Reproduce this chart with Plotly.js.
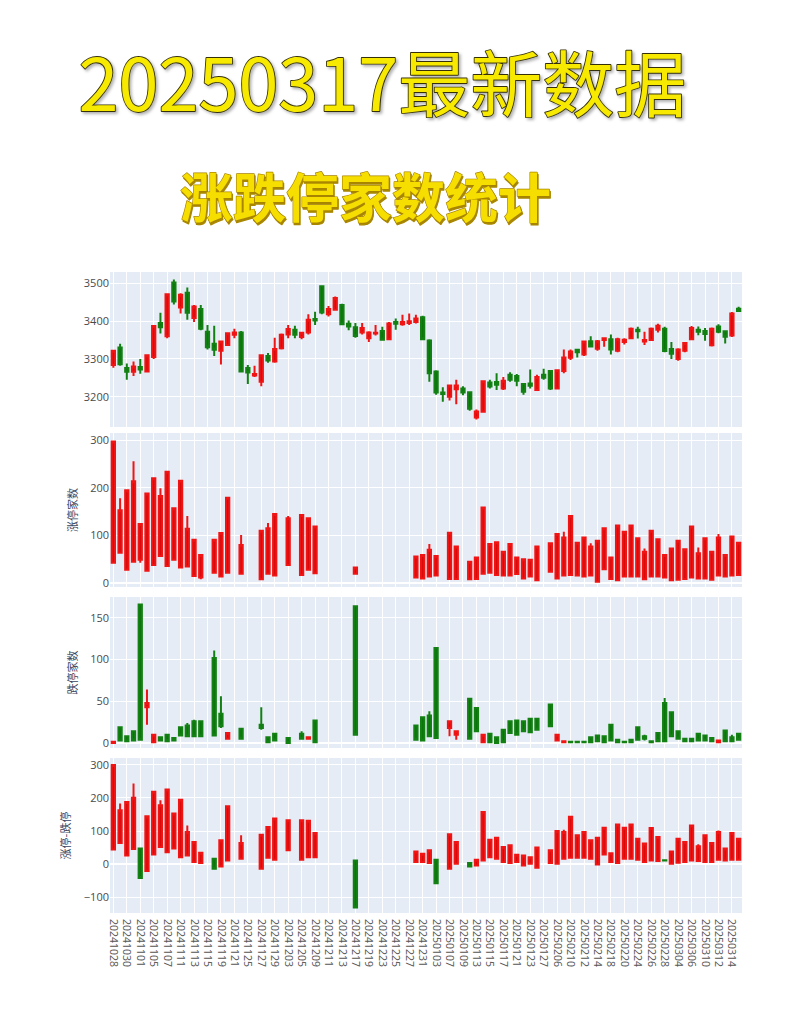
<!DOCTYPE html>
<html>
<head>
<meta charset="utf-8">
<script src="https://cdn.plot.ly/plotly-3.0.1.min.js"></script>
<style>
  html, body { margin: 0; padding: 0; background: #ffffff; }
  #chart { width: 800px; height: 1029px; }
  .gtitle {
    paint-order: stroke fill;
    stroke: #35300a;
    stroke-width: 1.8px;
    stroke-linejoin: round;
    filter: drop-shadow(2px 2px 1.5px rgba(0,0,0,0.3));
  }
  .annotation-text {
    paint-order: stroke fill;
    stroke: #a88400;
    stroke-width: 1.3px;
    stroke-linejoin: round;
    filter: drop-shadow(1.5px 2px 0px #a88600);
  }
</style>
</head>
<body>
<div id="chart"></div>
<script>
const n = null;

const dates = ['20241028','20241029','20241030','20241031','20241101','20241104','20241105','20241106','20241107','20241108',
'20241111','20241112','20241113','20241114','20241115','20241118','20241119','20241120','20241121','20241122',
'20241125','20241126','20241127','20241128','20241129','20241202','20241203','20241204','20241205','20241206',
'20241209','20241210','20241211','20241212','20241213','20241216','20241217','20241218','20241219','20241220',
'20241223','20241224','20241225','20241226','20241227','20241230','20241231','20250102','20250103','20250106',
'20250107','20250108','20250109','20250110','20250113','20250114','20250115','20250116','20250117','20250120',
'20250121','20250122','20250123','20250124','20250127','20250205','20250206','20250207','20250210','20250211',
'20250212','20250213','20250214','20250217','20250218','20250219','20250220','20250221','20250224','20250225',
'20250226','20250227','20250228','20250303','20250304','20250305','20250306','20250307','20250310','20250311',
'20250312','20250313','20250314','20250317'];

// Panel 1: index OHLC
const idxOpen = [3284,3330,3276,3266,3279,3267,3305,3395,3360,3502,
3436,3475,3408,3432,3372,3340,3322,3337,3364,3370,
3276,3256,3240,3308,3293,3328,3365,3377,3358,3370,
3406,3492,3418,3430,3443,3393,3384,3370,3355,3367,
3374,3352,3398,3392,3395,3398,3410,3349,3267,3211,
3200,3220,3222,3212,3145,3160,3238,3239,3222,3258,
3255,3234,3235,3218,3258,3268,3222,3268,3303,3324,
3312,3347,3327,3350,3352,3322,3345,3355,3377,3346,
3350,3377,3380,3326,3300,3322,3352,3377,3374,3336,
3386,3373,3362,3433];
const idxHigh = [3324,3340,3288,3293,3300,3311,3390,3422,3473,3510,
3474,3489,3443,3443,3390,3388,3347,3370,3380,3374,
3284,3282,3312,3316,3356,3367,3390,3388,3372,3418,
3425,3495,3440,3465,3446,3402,3395,3395,3373,3390,
3385,3398,3407,3417,3420,3417,3414,3352,3270,3225,
3232,3245,3228,3214,3166,3243,3245,3262,3252,3265,
3260,3236,3272,3258,3274,3270,3272,3325,3325,3326,
3348,3360,3350,3357,3365,3356,3355,3383,3385,3372,
3383,3393,3385,3345,3328,3345,3387,3386,3382,3383,
3392,3375,3424,3438];
const idxLow = [3277,3282,3245,3255,3261,3264,3300,3367,3355,3444,
3420,3404,3398,3376,3325,3308,3285,3335,3355,3264,
3234,3252,3228,3290,3290,3325,3355,3355,3352,3365,
3390,3418,3412,3428,3389,3376,3356,3365,3345,3362,
3348,3350,3377,3388,3390,3394,3350,3240,3205,3187,
3190,3180,3204,3163,3140,3158,3222,3218,3218,3240,
3228,3205,3222,3215,3245,3218,3220,3262,3297,3304,
3308,3330,3322,3332,3312,3318,3338,3352,3354,3337,
3348,3370,3318,3300,3295,3318,3350,3363,3348,3333,
3368,3341,3358,3424];
const idxClose = [3322,3286,3266,3280,3272,3310,3387,3384,3471,3452,
3470,3422,3439,3380,3331,3324,3346,3368,3370,3267,
3264,3260,3310,3296,3326,3364,3379,3364,3369,3404,
3402,3423,3432,3461,3392,3386,3361,3382,3370,3369,
3351,3394,3393,3398,3400,3407,3352,3262,3211,3207,
3230,3230,3211,3168,3161,3241,3227,3232,3242,3245,
3242,3213,3229,3252,3250,3222,3270,3304,3320,3318,
3346,3333,3347,3355,3325,3352,3351,3380,3373,3350,
3380,3388,3321,3314,3325,3342,3382,3372,3366,3380,
3372,3359,3420,3427];

// Panel 2: 涨停家数
const ztOpen = [43,64,28,45,49,26,38,57,36,49,
33,35,15,12,n,22,14,22,n,20,
n,n,8,20,16,n,38,n,17,28,
21,n,n,n,n,n,20,n,n,n,
n,n,n,n,n,12,10,14,16,n,
9,9,n,8,9,20,22,17,16,16,
19,10,14,6,n,24,10,16,17,16,
14,16,3,29,9,6,14,14,14,8,
14,14,12,6,7,9,12,10,10,7,
16,14,16,17];
const ztHigh = [297,178,195,256,124,188,220,199,234,157,
215,141,91,59,n,91,105,179,n,101,
n,n,110,126,145,n,141,n,143,136,
119,n,n,n,n,n,33,n,n,n,
n,n,n,n,n,56,59,82,57,n,
106,77,n,45,54,159,82,86,66,82,
54,50,49,77,n,84,103,108,141,85,
96,84,89,115,54,121,108,121,94,73,
110,92,59,73,89,71,119,75,94,66,
103,59,98,85];
const ztLow = [43,64,28,45,43,26,38,57,36,49,
33,35,15,8,n,22,14,22,n,20,
n,n,8,20,16,n,38,n,17,28,
21,n,n,n,n,n,20,n,n,n,
n,n,n,n,n,12,10,14,16,n,
9,9,n,8,9,20,22,17,16,16,
19,10,14,6,n,24,10,16,17,16,
14,16,3,29,9,6,14,14,14,8,
14,14,12,6,7,9,12,10,10,7,
16,14,16,17];
const ztClose = [297,153,195,214,124,188,220,183,234,157,
215,114,91,59,n,91,105,179,n,80,
n,n,110,115,145,n,136,n,143,136,
119,n,n,n,n,n,33,n,n,n,
n,n,n,n,n,56,59,70,57,n,
106,77,n,45,54,159,82,86,66,82,
54,50,49,77,n,84,103,96,141,85,
96,77,89,115,54,121,108,121,94,66,
110,92,59,73,89,71,119,63,94,66,
96,59,98,85];

// Panel 3: 跌停家数
const dtOpen = [0,19,8,14,166,43,1,7,10,6,
19,21,26,26,n,102,35,5,n,17,
n,n,22,7,11,n,6,n,11,5,
27,n,n,n,n,n,164,n,n,n,
n,n,n,n,n,21,31,33,114,n,
18,10,n,53,42,1,11,7,16,26,
27,26,29,29,n,46,3,1,1.5,1.5,
1.5,7,9,8,22,4,1.5,4,19,8,
2,12,48,37,14,5,5,11,9,6,
1,15,7,11];
const dtHigh = [2,19,8,14,166,64,10,7,10,6,
19,24,28,26,n,111,56,12,n,17,
n,n,43,7,11,n,6,n,14,7,
27,n,n,n,n,n,164,n,n,n,
n,n,n,n,n,21,31,38,114,n,
26,14,n,53,42,10,11,7,16,26,
27,26,29,29,n,46,10,2,1.5,1.5,
1.5,7,9,8,22,4,1.5,4,19,10,
2,12,54,37,14,5,5,11,9,6,
3,15,10,11];
const dtLow = [0,3,2,3,4,22,1,3,2,3,
9,8,8,8,n,9,18,5,n,5,
n,n,16,1,3,n,0,n,5,5,
1,n,n,n,n,n,10,n,n,n,
n,n,n,n,n,4,3,8,6,n,
8,4,n,5,14,1,1,0,1,12,
10,14,13,16,n,20,3,1,1,1,
1,1,2,1,3,1,1,1,4,3,
1,2,2,8,5,2,2,3,3,2,
1,2,2,4];
const dtClose = [1.5,3,2,3,4,48,10,3,2,3,
9,8,8,8,n,9,20,12,n,5,
n,n,18,1,3,n,0,n,5,7,
1,n,n,n,n,n,10,n,n,n,
n,n,n,n,n,4,3,8,6,n,
26,14,n,5,14,10,1,0,1,12,
10,14,13,16,n,20,10,2,1,1,
1,1,2,1,3,1,1,1,4,5,
1,2,2,8,5,2,2,3,3,2,
3,2,2,4];

// Panel 4: 涨停-跌停
const zdOpen = [44,64,26,46,47,-21,29,52,36,47,
21,26,6,3,n,16,-7,11,n,16,
n,n,-14,19,13,n,42,n,13,21,
21,n,n,n,n,n,11,n,n,n,
n,n,n,n,n,6,6,3,13,n,
-14,1,n,3,-4,11,21,16,6,3,
6,-4,1,-11,n,3,1,16,19,19,
19,16,-1,29,6,3,16,16,13,6,
11,9,11.5,1,4,6,11,9,6,6,
13,11,13,13];
const zdHigh = [300,183,188,244,47,145,219,193,226,153,
195,117,67,34,n,16,72,175,n,87,
n,n,89,112,138,n,133,n,133,131,
94,n,n,n,n,n,11,n,n,n,
n,n,n,n,n,38,31,42,13,n,
90,67,n,3,13,158,74,80,52,57,
28,26,21,50,n,42,100,104,143,87,
97,72,80,110,33,120,110,120,77,62,
109,82,11.5,38,77,67,117,60,87,64,
102,47,94,77];
const zdLow = [44,64,26,46,-42,-21,29,52,36,47,
21,26,6,3,n,-14,-7,11,n,16,
n,n,-14,19,13,n,42,n,13,21,
21,n,n,n,n,n,-131,n,n,n,
n,n,n,n,n,6,6,3,-58,n,
-14,1,n,-7,-4,11,21,16,6,3,
6,-4,1,-11,n,3,1,16,19,19,
19,16,-1,29,6,3,16,16,13,6,
11,9,10.5,1,4,6,11,9,6,6,
13,11,13,13];
const zdClose = [300,163,188,201,-42,145,219,178,226,153,
195,97,67,34,n,-14,72,175,n,64,
n,n,89,112,138,n,133,n,133,131,
94,n,n,n,n,n,-131,n,n,n,
n,n,n,n,n,38,31,42,-58,n,
90,67,n,-7,13,158,74,80,52,57,
28,26,21,50,n,42,100,97,143,87,
97,72,80,110,33,120,110,120,77,62,
109,82,10.5,38,77,67,117,54,87,64,
97,47,94,77];

const RED_LINE = '#f01414';
const RED_FILL = '#d80a0a';
const GREEN_LINE = '#138013';
const GREEN_FILL = '#0b740b';

function candle(o, h, l, c, xa, ya) {
  return {
    type: 'candlestick', x: dates, open: o, high: h, low: l, close: c,
    xaxis: xa, yaxis: ya, hoverinfo: 'skip', showlegend: false,
    increasing: { line: { color: RED_LINE, width: 2 }, fillcolor: RED_FILL },
    decreasing: { line: { color: GREEN_LINE, width: 2 }, fillcolor: GREEN_FILL }
  };
}

const data = [
  candle(idxOpen, idxHigh, idxLow, idxClose, 'x', 'y'),
  candle(ztOpen, ztHigh, ztLow, ztClose, 'x2', 'y2'),
  candle(dtOpen, dtHigh, dtLow, dtClose, 'x3', 'y3'),
  candle(zdOpen, zdHigh, zdLow, zdClose, 'x4', 'y4')
];

const tickFont = { family: '"Open Sans", verdana, arial, sans-serif', size: 11, color: '#4a4a4a' };
const xTickFont = { family: '"Open Sans", verdana, arial, sans-serif', size: 10.5, color: '#555555' };
const titleFont = { family: '"Noto Sans CJK SC", sans-serif', size: 11, color: '#3a4560' };

function xax(anchor, showLabels) {
  return {
    anchor: anchor, type: 'category', categoryorder: 'array', categoryarray: dates,
    range: [-0.5, dates.length - 0.5], autorange: false,
    rangeslider: { visible: false },
    tickmode: 'linear', tick0: 0, dtick: 2,
    showticklabels: showLabels, tickangle: 90, tickfont: xTickFont, ticklabelstandoff: 5,
    gridcolor: '#ffffff', gridwidth: 1, showline: false, zeroline: false, ticks: ''
  };
}
function yax(domain, range, dtick, title) {
  const a = {
    domain: domain, range: range, autorange: false, dtick: dtick, tick0: 0,
    tickfont: tickFont, gridcolor: '#ffffff', gridwidth: 1,
    zeroline: true, zerolinecolor: '#ffffff', zerolinewidth: 2, showline: false, ticks: ''
  };
  if (title) a.title = { text: title, font: titleFont, standoff: 10 };
  return a;
}

const layout = {
  width: 800, height: 1029,
  margin: { l: 110, r: 58, t: 272, b: 116 },
  paper_bgcolor: '#ffffff', plot_bgcolor: '#E5ECF6',
  showlegend: false,
  font: tickFont,
  title: {
    text: '20250317最新数据',
    font: { family: '"Noto Sans CJK SC", sans-serif', size: 72, color: '#f7ea00' },
    xref: 'container', yref: 'container',
    x: 0.478, xanchor: 'center', y: 0.917, yanchor: 'middle'
  },
  annotations: [{
    text: '涨跌停家数统计',
    xref: 'paper', yref: 'paper', x: 0.4035, y: 1.1201,
    xanchor: 'center', yanchor: 'middle', showarrow: false,
    font: { family: '"Noto Sans CJK SC", sans-serif', size: 53, color: '#f6de00', weight: 'bold' }
  }],
  xaxis: xax('y', false),
  xaxis2: xax('y2', false),
  xaxis3: xax('y3', false),
  xaxis4: xax('y4', true),
  yaxis: yax([0.7582, 1], [3120, 3530], 100, null),
  yaxis2: yax([0.5086, 0.7488], [-8, 315], 100, '涨停家数'),
  yaxis3: yax([0.2574, 0.4930], [-6, 175], 50, '跌停家数'),
  yaxis4: yax([0, 0.2418], [-148, 321], 100, '涨停-跌停')
};

Plotly.newPlot('chart', data, layout, { displayModeBar: false, staticPlot: true });
</script>
</body>
</html>
